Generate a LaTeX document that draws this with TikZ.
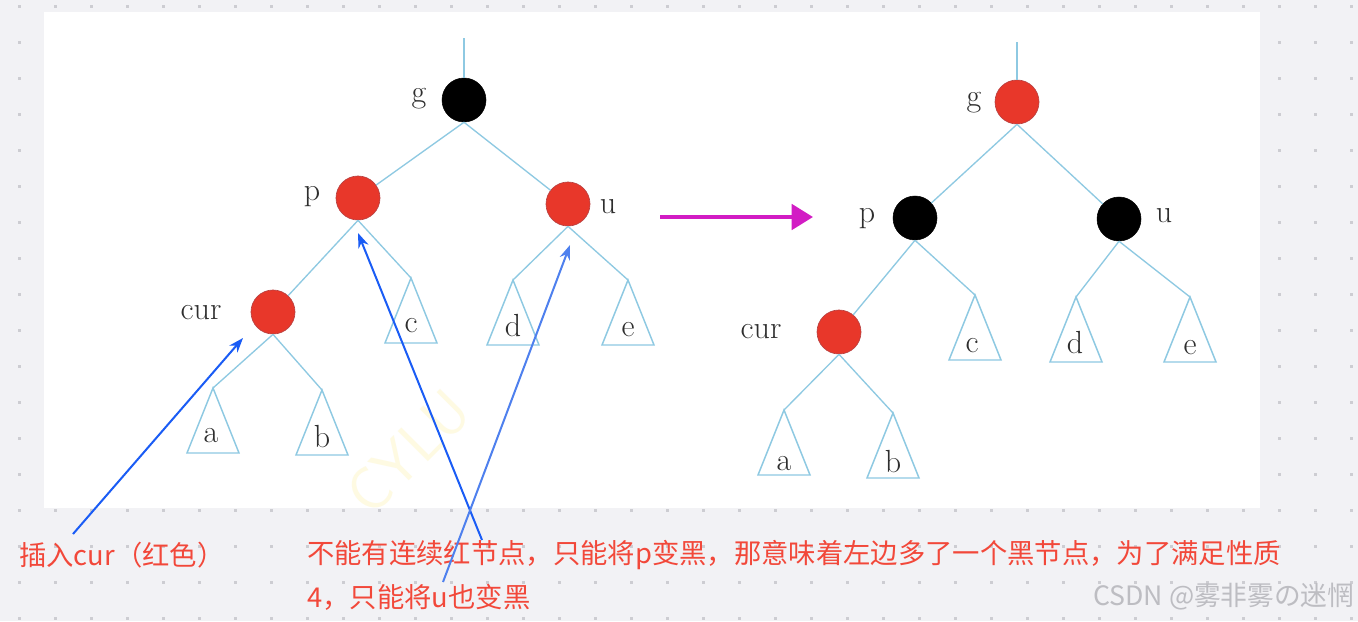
\documentclass[tikz,border=0pt]{standalone}
\usepackage{fontspec}
\newfontfamily\cjk{Noto Sans CJK SC}
\usetikzlibrary{arrows.meta}
\definecolor{bg}{HTML}{F2F2F5}
\definecolor{griddot}{HTML}{CDCDD2}
\definecolor{nred}{HTML}{E8372A}
\definecolor{nredb}{HTML}{B84040}
\definecolor{edgec}{HTML}{8EC9E2}
\definecolor{lbl}{HTML}{2E2E2E}
\definecolor{txtred}{HTML}{F2483A}
\definecolor{ablue}{HTML}{1A5CF5}
\definecolor{abluel}{HTML}{4E80EE}
\definecolor{mag}{HTML}{D21CC4}
\definecolor{wm}{HTML}{BDBDC2}
\definecolor{wmy}{HTML}{FEFAE2}
\begin{document}
\begin{tikzpicture}[x=0.75pt,y=-0.75pt,
  rnode/.style={circle,fill=nred,draw=nredb,line width=0.5pt,minimum size=33pt,inner sep=0pt},
  bnode/.style={circle,fill=black,draw=black,minimum size=33pt,inner sep=0pt},
  edg/.style={draw=edgec,line width=1pt},
  tri/.style={draw=edgec,line width=1.1pt,line join=miter},
  lab/.style={text=lbl,font=\fontsize{24}{24}\selectfont,inner sep=0pt,anchor=base},
  note/.style={text=txtred,font=\cjk\fontsize{20.5}{24}\selectfont,inner sep=0pt,anchor=west},
  barrow/.style={draw=ablue,line width=1.5pt,-{Stealth[length=11pt,width=8pt]}},
  ]
\useasboundingbox (0,0) rectangle (1358,621);
\fill[bg] (0,0) rectangle (1358,621);
\foreach \i in {0,...,37}{
  \foreach \j in {0,...,17}{
    \fill[griddot] ({17.5+36*\i},{4.5+36*\j}) rectangle ++(3,3);
  }
}
\fill[white] (44,12) rectangle (1260,508);
\begin{scope}
  \clip (44,12) rectangle (1260,508);
  \node[rotate=45,text=wmy,font=\sffamily\fontsize{46}{46}\selectfont] (wmark) at (408,452) {CYLU};
\end{scope}

% ---------- left tree ----------
\node[bnode] (g1) at (464,100) {};
\node[rnode] (p1) at (358,198) {};
\node[rnode] (u1) at (568,204) {};
\node[rnode] (cur1) at (273,312) {};
\coordinate (top1) at (464,38);
\coordinate (c1) at (411,278);
\coordinate (d1) at (513,280);
\coordinate (e1) at (628,280);
\coordinate (a1) at (213,388);
\coordinate (b1) at (322,390);
\draw[edg] (top1) -- (g1.north);
\draw[edg] (g1.south) -- (p1);
\draw[edg] (g1.south) -- (u1);
\draw[edg] (p1.south) -- (cur1);
\draw[edg] (p1.south) -- (c1);
\draw[edg] (u1.south) -- (d1);
\draw[edg] (u1.south) -- (e1);
\draw[edg] (cur1.south) -- (a1);
\draw[edg] (cur1.south) -- (b1);
\foreach \t in {c1,d1,e1,a1,b1}{
  \draw[tri] (\t) -- ++(-26,65) -- ++(52,0) -- cycle;
}
\node[lab] (lg1) at (419,102) {g};
\node[lab] (lp1) at (312,200) {p};
\node[lab] (lu1) at (608,213) {u};
\node[lab] (lcur1) at (201,319) {cur};
\node[lab] (lc1) at (411,332) {c};
\node[lab] (ld1) at (513,336) {d};
\node[lab] (le1) at (628,336) {e};
\node[lab] (la1) at (211,442) {a};
\node[lab] (lb1) at (322,447) {b};

% ---------- right tree ----------
\node[rnode] (g2) at (1017,102) {};
\node[bnode] (p2) at (915,218) {};
\node[bnode] (u2) at (1119,219) {};
\node[rnode] (cur2) at (839,332) {};
\coordinate (top2) at (1017,42);
\coordinate (c2) at (975,295);
\coordinate (d2) at (1076,297);
\coordinate (e2) at (1190,297);
\coordinate (a2) at (784,410);
\coordinate (b2) at (893,413);
\draw[edg] (top2) -- (g2.north);
\draw[edg] (g2.south) -- (p2);
\draw[edg] (g2.south) -- (u2);
\draw[edg] (p2.south) -- (cur2);
\draw[edg] (p2.south) -- (c2);
\draw[edg] (u2.south) -- (d2);
\draw[edg] (u2.south) -- (e2);
\draw[edg] (cur2.south) -- (a2);
\draw[edg] (cur2.south) -- (b2);
\foreach \t in {c2,d2,e2,a2,b2}{
  \draw[tri] (\t) -- ++(-26,65) -- ++(52,0) -- cycle;
}
\node[lab] (lg2) at (974,106) {g};
\node[lab] (lp2) at (867,222) {p};
\node[lab] (lu2) at (1164,222) {u};
\node[lab] (lcur2) at (761,338) {cur};
\node[lab] (lc2) at (972,352) {c};
\node[lab] (ld2) at (1075,353) {d};
\node[lab] (le2) at (1190,354) {e};
\node[lab] (la2) at (784,470) {a};
\node[lab] (lb2) at (893,472) {b};

% ---------- transition arrow ----------
\coordinate (m1) at (660,217);
\coordinate (m2) at (813,217);
\draw[draw=mag,line width=3pt,-{Triangle[length=16pt,width=19pt]}] (m1) -- (m2);

% ---------- notes ----------
\node[note] (n1) at (19,555) {插入cur（红色）};
\node[note] (n2) at (307,555) {不能有连续红节点，只能将p变黑，那意味着左边多了一个黑节点，为了满足性质};
\node[note] (n3) at (307,597) {4，只能将u也变黑};
\node[anchor=west,inner sep=0pt,text=wm,font=\cjk\fontsize{20}{21}\selectfont] (wmk) at (1093,597) {CSDN @雾非雾の迷惘};

% ---------- annotation arrows ----------
\coordinate (s1) at (73,534);
\coordinate (t1) at (243,338);
\coordinate (s2) at (482,540);
\coordinate (t2) at (358,233);
\coordinate (s3) at (443,582);
\coordinate (t3) at (570,245);
\draw[barrow] (s1) -- (t1);
\draw[barrow] (s2) -- (t2);
\draw[barrow,draw=abluel] (s3) -- (t3);
\end{tikzpicture}
\end{document}
